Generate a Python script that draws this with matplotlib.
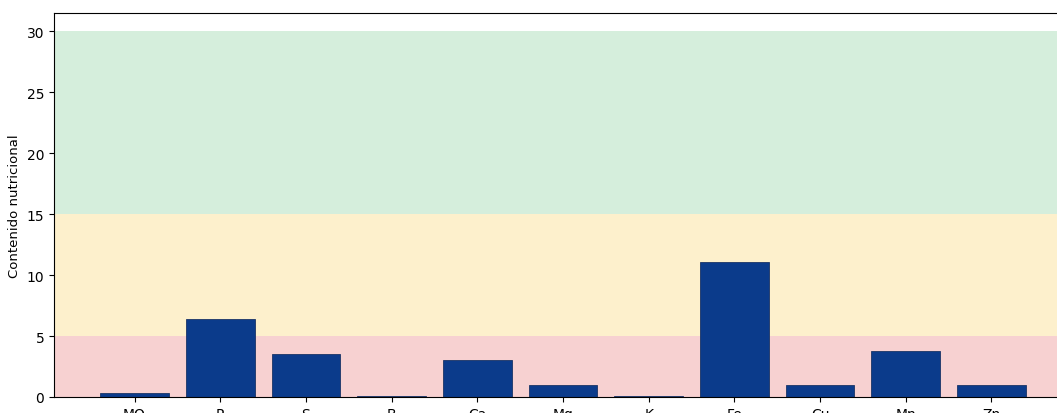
import matplotlib
matplotlib.use("Agg")
import matplotlib.pyplot as plt

# nutrient content per element
nutrients = ['MO', 'P', 'S', 'B', 'Ca', 'Mg', 'K', 'Fe', 'Cu', 'Mn', 'Zn']
values = [0.33, 6.4, 3.5, 0.1, 3.0, 1.0, 0.1, 11.1, 1.0, 3.8, 1.0]

# level bands (low / medium / high)
band_edges = [0, 5, 15, 30]
band_colors = ['#f7d1d1', '#fdf0cc', '#d5eedc']

fig = plt.figure(figsize=(10.57, 4.14), dpi=100)
# axes run past the right/bottom edge, as in the cropped original
ax = fig.add_axes([54 / 1057, 16 / 414, 1018 / 1057, 384 / 414])

for lo, hi, c in zip(band_edges[:-1], band_edges[1:], band_colors):
    ax.axhspan(lo, hi, color=c, zorder=0, lw=0)

ax.bar(nutrients, values, width=0.8, color='#0b3b8b', edgecolor='#1a3466',
       linewidth=0.6, zorder=2)

ax.set_ylim(0, 31.5)
ax.set_xlim(-0.94, 10.94)
ax.set_ylabel('Contenido nutricional', fontsize=9.5)
ax.tick_params(labelsize=10)

fig.savefig('out.png', dpi=100)
